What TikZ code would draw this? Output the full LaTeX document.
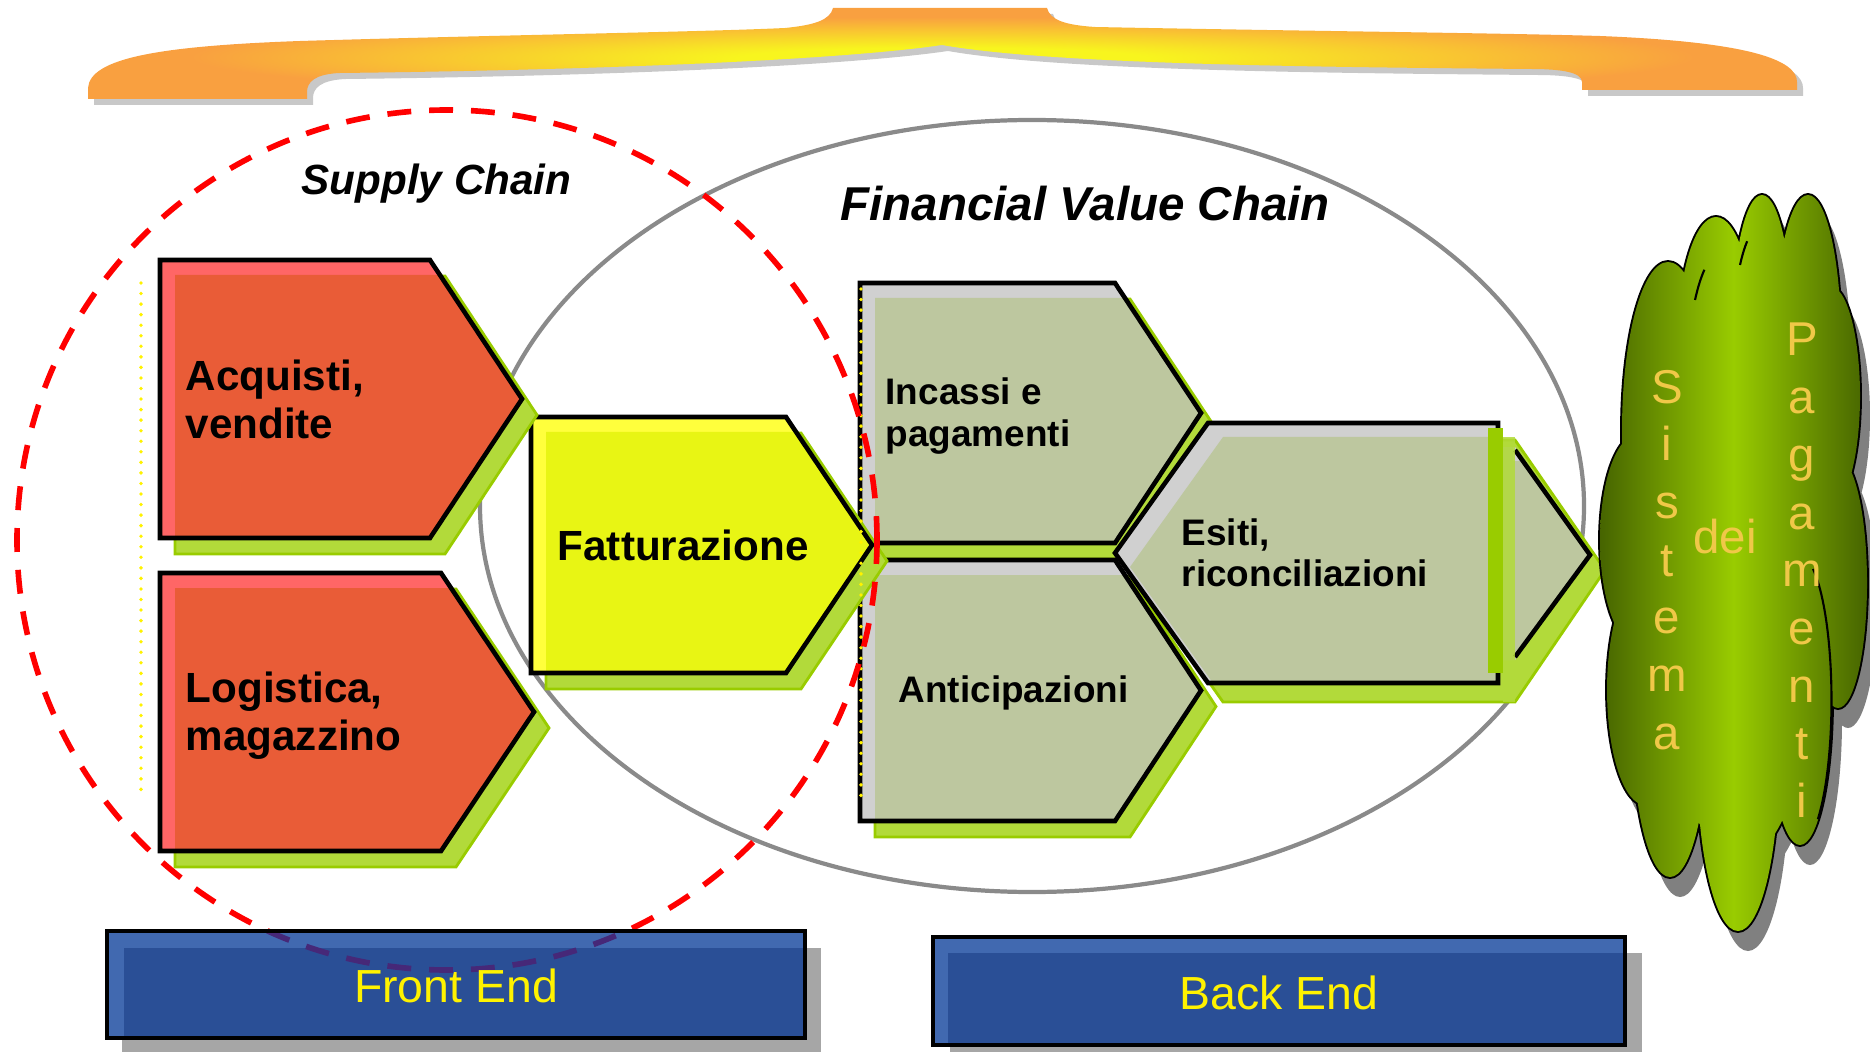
\documentclass[tikz,border=0pt]{standalone}
\usepackage{fontspec}
\setmainfont{Liberation Sans}
\definecolor{banO}{RGB}{249,160,64}
\definecolor{banY}{RGB}{248,245,30}
\definecolor{banSh}{RGB}{200,200,200}
\definecolor{redA}{RGB}{255,102,102}
\definecolor{redB}{RGB}{233,92,55}
\definecolor{yelA}{RGB}{255,255,60}
\definecolor{yelB}{RGB}{232,245,20}
\definecolor{gryA}{RGB}{208,208,208}
\definecolor{gryB}{RGB}{189,199,159}
\definecolor{grnS}{RGB}{178,218,58}
\definecolor{grnE}{RGB}{153,204,0}
\definecolor{bluA}{RGB}{65,105,176}
\definecolor{bluB}{RGB}{42,79,150}
\definecolor{boxSh}{RGB}{166,166,166}
\definecolor{treeD}{RGB}{70,100,0}
\definecolor{treeL}{RGB}{153,204,0}
\definecolor{treeT}{RGB}{240,200,72}
\definecolor{treeSh}{RGB}{128,128,128}
\definecolor{ellG}{RGB}{138,138,138}
\definecolor{dashIn}{RGB}{70,40,120}
\pgfdeclareradialshading{bannersh}{\pgfpoint{0bp}{-3bp}}{color(0bp)=(banY); color(6bp)=(banY); color(22bp)=(banO); color(60bp)=(banO)}
\newcommand{\mychev}[7]{%
 \fill[greensh,shift={(15,16)}] (#1,#2) -- (#3,#2) -- (#5,{(#2+#4)/2}) -- (#3,#4) -- (#1,#4) -- cycle;
 \fill[#6] (#1,#2) -- (#3,#2) -- (#5,{(#2+#4)/2}) -- (#3,#4) -- (#1,#4) -- cycle;
 \begin{scope}
  \clip (#1,#2) -- (#3,#2) -- (#5,{(#2+#4)/2}) -- (#3,#4) -- (#1,#4) -- cycle;
  \fill[#7,shift={(15,15)}] (#1,#2) -- (#3,#2) -- (#5,{(#2+#4)/2}) -- (#3,#4) -- (#1,#4) -- cycle;
 \end{scope}
 \draw[outl] (#1,#2) -- (#3,#2) -- (#5,{(#2+#4)/2}) -- (#3,#4) -- (#1,#4) -- cycle;
}
\newcommand{\twolines}[2]{\vtop{\hbox{#1}\hbox{#2}}}
\newcommand{\clet}[1]{\hbox to 0pt{\hss#1\hss}}
\tikzset{
 outl/.style={draw=black,line width=1.3pt,line join=miter},
 greensh/.style={fill=grnS,draw=grnE,line width=0.8pt},
 reddash/.style={draw=red,line width=1.6pt,dash pattern=on 6.8pt off 5.1pt},
 ydot/.style={draw=yellow,line width=1.1pt,dash pattern=on 0pt off 3pt,line cap=round},
 bigchev/.style={font=\bfseries\fontsize{12}{13.4}\selectfont,inner sep=0pt,anchor=base west},
 smallchev/.style={font=\bfseries\fontsize{10.5}{11.8}\selectfont,inner sep=0pt,anchor=base west},
 title/.style={font=\bfseries\itshape,inner sep=0pt,anchor=base west},
 boxtxt/.style={font=\fontsize{13.2}{15}\selectfont,text=yellow,inner sep=0pt,anchor=base},
 treetxt/.style={font=\fontsize{13.5}{16.4}\selectfont,text=treeT,inner sep=0pt,anchor=base},
}
\begin{document}
\begin{tikzpicture}[x=0.01cm,y=-0.01cm]
\useasboundingbox (0,0) rectangle (1870,1052);
% ---- banner
\def\bannerP{(88,99) -- (88,88) .. controls (90,58) and (160,46) .. (300,41) .. controls (500,35) and (700,32) .. (785,28) .. controls (815,25) and (830,20) .. (833,8) -- (1047,8) .. controls (1050,20) and (1065,25) .. (1095,27) .. controls (1300,31) and (1500,33) .. (1600,36) .. controls (1750,42) and (1797,60) .. (1797,82) -- (1797,90) -- (1582,90) -- (1582,82) .. controls (1582,72) and (1560,69) .. (1531,69) .. controls (1300,67) and (1050,64) .. (942,45) .. controls (840,60) and (600,70) .. (340,73) .. controls (315,74) and (307,82) .. (307,92) -- (307,99) -- cycle}
\fill[banSh,shift={(6,6)}] \bannerP;
\shade[shading=bannersh] \bannerP;
% ---- financial value chain ellipse
\draw[ellG,line width=1.2pt] (1032,506) ellipse [x radius=552, y radius=386];
% ---- back-end chevrons
\mychev{860}{283}{1115}{543}{1201}{gryA}{gryB}
\mychev{860}{560}{1115}{821}{1201}{gryA}{gryB}
% Esiti
\fill[greensh] (1130,570) -- (1223,440) -- (1515,440) -- (1605,570) -- (1515,702) -- (1223,702) -- cycle;
\fill[gryA] (1115,553) -- (1208,423) -- (1498,423) -- (1498,447) -- (1515,447) -- (1590,555) -- (1515,660) -- (1498,660) -- (1498,683) -- (1208,683) -- cycle;
\begin{scope}
 \clip (1115,553) -- (1208,423) -- (1498,423) -- (1498,447) -- (1515,447) -- (1590,555) -- (1515,660) -- (1498,660) -- (1498,683) -- (1208,683) -- cycle;
 \fill[gryB,shift={(15,14)}] (1115,553) -- (1208,423) -- (1498,423) -- (1498,447) -- (1515,447) -- (1590,555) -- (1515,660) -- (1498,660) -- (1498,683) -- (1208,683) -- cycle;
\end{scope}
\draw[outl] (1498,433) -- (1498,423) -- (1208,423) -- (1115,553) -- (1208,683) -- (1498,683) -- (1498,673);
\draw[outl] (1515,450) -- (1590,555) -- (1515,657);
\fill[grnE] (1488,428) rectangle (1503,673);
\fill[grnS,opacity=0.85] (1503,437) rectangle (1515,702);
% ---- front-end chevrons
\mychev{531}{417}{786}{673}{872}{yelA}{yelB}
\mychev{160}{260}{430}{538}{522}{redA}{redB}
\mychev{160}{573}{441}{851}{534}{redA}{redB}
% ---- labels in chevrons
\node[bigchev] (acq) at (185,391) {\twolines{Acquisti,}{vendite}};
\node[bigchev,font=\bfseries\fontsize{12}{13.9}\selectfont] (log) at (185,702) {\twolines{Logistica,}{magazzino}};
\node[bigchev] (fat) at (557,560) {Fatturazione};
\node[smallchev] (inc) at (885,405) {\twolines{Incassi e}{pagamenti}};
\node[smallchev] (ant) at (898,702) {Anticipazioni};
\node[smallchev] (esi) at (1181,545) {\twolines{Esiti,}{riconciliazioni}};
% ---- titles
\node[title,font=\bfseries\itshape\fontsize{12}{14}\selectfont] (sc) at (301,195) {Supply Chain};
\node[title,font=\bfseries\itshape\fontsize{13.5}{16}\selectfont] (fvc) at (840,221) {Financial Value Chain};
% ---- dotted lines
\draw[ydot] (141,283) -- (141,798);
\draw[ydot] (861,289) -- (861,803);
% ---- supply chain circle
\draw[reddash] (447,540) circle [radius=430];
% ---- front end box
\fill[boxSh] (122,948) rectangle (821,1055);
\fill[bluA] (107,931) rectangle (805,1038);
\fill[bluB] (124,948) rectangle (805,1038);
\begin{scope}
 \clip (107,931) rectangle (805,1038);
 \draw[reddash,draw=dashIn] (447,540) circle [radius=430];
\end{scope}
\draw[black,line width=0.9pt] (107,931) rectangle (805,1038);
\node[boxtxt] (fe) at (456,1002) {Front End};
% ---- back end box
\fill[boxSh] (950,953) rectangle (1642,1061);
\fill[bluA] (933,937) rectangle (1625,1045);
\fill[bluB] (948,953) rectangle (1625,1045);
\draw[black,line width=0.9pt] (933,937) rectangle (1625,1045);
\node[boxtxt] (be) at (1279,1009) {Back End};
% ---- payment system cloud
\def\treeE{(1668,430) ellipse [x radius=46, y radius=168]
 (1716,340) ellipse [x radius=38, y radius=123]
 (1762,330) ellipse [x radius=30, y radius=135]
 (1808,340) ellipse [x radius=33, y radius=145]
 (1830,396) ellipse [x radius=30, y radius=110]
 (1838,583) ellipse [x radius=29, y radius=125]
 (1800,700) ellipse [x radius=32, y radius=145]
 (1738,760) ellipse [x radius=41, y radius=171]
 (1670,720) ellipse [x radius=38, y radius=157]
 (1645,690) ellipse [x radius=38, y radius=115]
 (1637,540) ellipse [x radius=37, y radius=105]
 (1740,560) ellipse [x radius=85, y radius=300]}
\fill[treeSh,shift={(10,20)}] \treeE;
\draw[black,line width=1.1pt] \treeE;
\shade[left color=treeD,right color=treeD,middle color=treeL] \treeE;
\draw[black,line width=0.6pt] (1813,569) arc [start angle=-65, end angle=55, x radius=32, y radius=145];
\draw[black,line width=0.6pt] (1695,300) arc [start angle=-145, end angle=-125, x radius=38, y radius=123];
\draw[black,line width=0.6pt] (1740,265) arc [start angle=-135, end angle=-118, x radius=30, y radius=135];
\node[treetxt] (sis) at (1667,403) {\vtop{\clet{S}\clet{i}\clet{s}\clet{t}\clet{e}\clet{m}\clet{a}}};
\node[treetxt] (dei) at (1725,553) {dei};
\node[treetxt] (pag) at (1802,356) {\vtop{\clet{P}\clet{a}\clet{g}\clet{a}\clet{m}\clet{e}\clet{n}\clet{t}\clet{i}}};
\end{tikzpicture}
\end{document}
